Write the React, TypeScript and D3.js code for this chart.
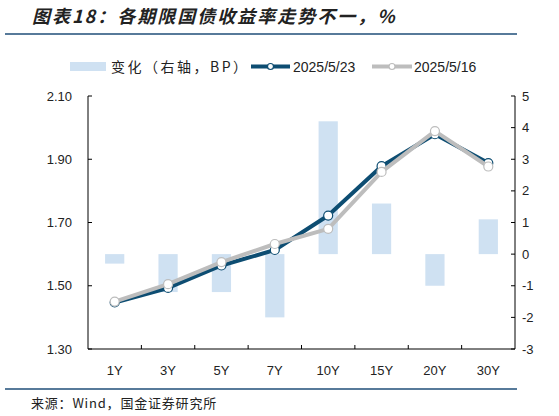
import * as d3 from 'd3';

const categories = ['1Y', '3Y', '5Y', '7Y', '10Y', '15Y', '20Y', '30Y'];
const yield0523 = [1.447, 1.493, 1.564, 1.613, 1.722, 1.878, 1.979, 1.888];
const yield0516 = [1.450, 1.505, 1.575, 1.632, 1.680, 1.860, 1.989, 1.877];
const changeBp = [-0.3, -1.2, -1.2, -2.0, 4.2, 1.6, -1.0, 1.1];
const leftTicks = [1.3, 1.5, 1.7, 1.9, 2.1];
const rightTicks = [-3, -2, -1, 0, 1, 2, 3, 4, 5];

const W = 559;
const H = 416;
const plot = { left: 88, right: 515, top: 96, bottom: 349 };
const BLUE = '#0d4d72';
const GRAY = '#bdbdbd';
const BAR = '#cfe1f2';
const AXIS = '#000';
const LATIN = '"Liberation Sans", Arial, sans-serif';
const CJK = '"Noto Sans CJK SC", sans-serif';

export default function App() {
  const x = d3.scaleBand<string>().domain(categories).range([plot.left, plot.right]).paddingInner(0.64).paddingOuter(0.32);
  const xb = d3.scaleBand<string>().domain(categories).range([plot.left, plot.right]);
  const yL = d3.scaleLinear().domain([1.3, 2.1]).range([plot.bottom, plot.top]);
  const yR = d3.scaleLinear().domain([-3, 5]).range([plot.bottom, plot.top]);

  const cx = (c: string) => (xb(c) || 0) + xb.bandwidth() / 2;
  const line = (vals: number[]) =>
    d3.line<number>().x((_, i) => cx(categories[i])).y((v) => yL(v))(vals) || '';

  // gray series is drawn on top in the original
  const series = [
    { key: '2025/5/23', vals: yield0523, color: BLUE },
    { key: '2025/5/16', vals: yield0516, color: GRAY },
  ];

  return (
    <svg width={W} height={H} style={{ position: 'absolute', left: 0, top: 0, background: '#fff' }}>
      {/* title */}
      <text x={32} y={23} fontFamily={CJK} fontSize={18} fontWeight="bold" fontStyle="italic" letterSpacing={2} fill="#222">
        图表18：各期限国债收益率走势不一，%
      </text>
      <line x1={5} x2={517} y1={34} y2={34} stroke="#1f4e79" strokeWidth={1.5} />

      {/* legend */}
      <rect x={70} y={62} width={36} height={9} fill={BAR} />
      <text x={111} y={71.5} fontFamily={CJK} fontSize={14} letterSpacing={2.5} fill="#222">变化（右轴，BP）</text>
      <line x1={251} x2={290} y1={66.5} y2={66.5} stroke={BLUE} strokeWidth={4} />
      <circle cx={270.5} cy={66.5} r={3} fill="#fff" stroke={BLUE} strokeWidth={1.2} />
      <text x={293} y={72} fontFamily={LATIN} fontSize={14} fill="#222">2025/5/23</text>
      <line x1={372} x2={412} y1={66.5} y2={66.5} stroke={GRAY} strokeWidth={4} />
      <circle cx={392} cy={66.5} r={3} fill="#fff" stroke={GRAY} strokeWidth={1.2} />
      <text x={414} y={72} fontFamily={LATIN} fontSize={14} fill="#222">2025/5/16</text>

      {/* bars */}
      {categories.map((c, i) => (
        <rect
          key={c}
          x={x(c)}
          width={x.bandwidth()}
          y={yR(Math.max(0, changeBp[i]))}
          height={Math.abs(yR(changeBp[i]) - yR(0))}
          fill={BAR}
        />
      ))}

      {/* lines */}
      {series.map((s) => (
        <g key={s.key}>
          <path d={line(s.vals)} fill="none" stroke={s.color} strokeWidth={4} strokeLinejoin="round" />
          {s.vals.map((v, i) => (
            <circle key={i} cx={cx(categories[i])} cy={yL(v)} r={4.5} fill="#fff" stroke={s.color} strokeWidth={1.2} />
          ))}
        </g>
      ))}

      {/* left axis */}
      <line x1={plot.left} x2={plot.left} y1={plot.top} y2={plot.bottom} stroke={AXIS} />
      {leftTicks.map((t) => (
        <g key={t}>
          <line x1={plot.left} x2={plot.left + 4} y1={yL(t)} y2={yL(t)} stroke={AXIS} />
          <text x={72} y={yL(t)} dy="0.35em" textAnchor="end" fontFamily={LATIN} fontSize={13} fill="#222">
            {t.toFixed(2)}
          </text>
        </g>
      ))}

      {/* right axis */}
      <line x1={plot.right} x2={plot.right} y1={plot.top} y2={plot.bottom} stroke={AXIS} />
      {rightTicks.map((t) => (
        <g key={t}>
          <line x1={plot.right - 4} x2={plot.right} y1={yR(t)} y2={yR(t)} stroke={AXIS} />
          <text x={522} y={yR(t)} dy="0.35em" fontFamily={LATIN} fontSize={13} fill="#222">
            {t}
          </text>
        </g>
      ))}

      {/* x axis */}
      <line x1={plot.left} x2={plot.right} y1={plot.bottom} y2={plot.bottom} stroke={AXIS} />
      {categories.slice(1).map((c) => (
        <line key={c} x1={xb(c)} x2={xb(c)} y1={plot.bottom} y2={plot.bottom - 4} stroke={AXIS} />
      ))}
      {categories.map((c) => (
        <text key={c} x={cx(c)} y={375} textAnchor="middle" fontFamily={LATIN} fontSize={13} fill="#222">
          {c}
        </text>
      ))}

      {/* footer */}
      <line x1={5} x2={517} y1={389} y2={389} stroke="#1f4e79" strokeWidth={1.5} />
      <text x={31} y={408} fontFamily={CJK} fontSize={13} letterSpacing={0.8} fill="#222">来源：Wind，国金证券研究所</text>
    </svg>
  );
}
